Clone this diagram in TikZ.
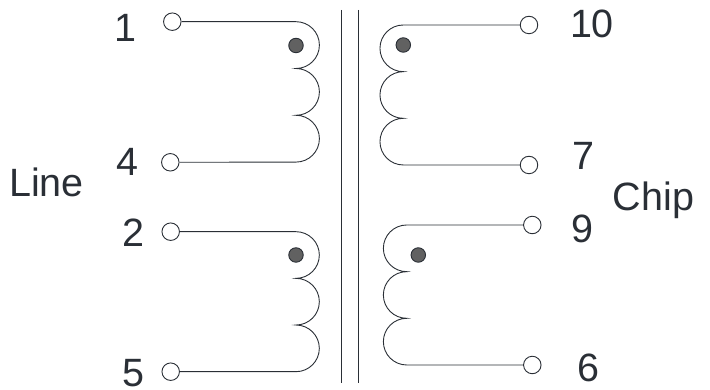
\documentclass[tikz,border=0pt]{standalone}
\usepackage{fontspec}
\setmainfont{Liberation Sans}
\definecolor{inkdark}{RGB}{42,47,54}
\begin{document}
\begin{tikzpicture}[x=1pt,y=1pt,line width=0.9pt,draw=inkdark]
		\useasboundingbox (0,0) rectangle (710,390);
		\begin{scope}[every node/.style={circle,draw,fill=white,inner sep=0pt,minimum size=17.5pt}]
			\node (1) at (172.3,368.3) {};
			\node (4) at (170.3,227.7) {};
			\node (2) at (170.7,158.3) {};
			\node (5) at (170.7,18.3) {};
			\node (10) at (529,365) {};
			\node (7) at (529,225) {};
			\node (9) at (532.3,165) {};
			\node (6) at (532.3,25) {};
		\end{scope}
		
		\begin{scope}[every node/.style={circle,draw,fill=black!62,inner sep=0pt,minimum size=14.5pt}]
			\node (dot1) at (296,344.5) {};
			\node (dot2) at (296,135) {};
			\node (dot3) at (403.3,345) {};
			\node (dot4) at (418.3,135) {};
		\end{scope}
		
		\begin{scope}[every node/.style={anchor=base,inner sep=0pt,text=inkdark,font=\fontsize{39.5}{39.5}\selectfont}]
			\node (n1) at (125.5,348) {1};
			\node (n4) at (127.5,214) {4};
			\node (n2) at (133,143) {2};
			\node (n5) at (133,3) {5};
			\node (n10) at (592,352.5) {10};
			\node (n7) at (583,220) {7};
			\node (n9) at (582,147.5) {9};
			\node (n6) at (588.5,8.5) {6};
			\node (line) at (46.5,193) {Line};
			\node (chip) at (653.5,179) {Chip};
		\end{scope}
		
		\coordinate (a1) at (296,368.3);
		\coordinate (a2) at (296,158.3);
		\coordinate (a3) at (403.3,365);
		\coordinate (a4) at (406.7,165);
		\coordinate (core1) at (341.7,380);
		\coordinate (core2) at (341.7,7);
		\coordinate (core3) at (358.5,380);
		\coordinate (core4) at (358.5,7);
		
		\draw (core1) -- (core2);
		\draw (core3) -- (core4);
		\draw (1) -- (a1) arc[start angle=90,end angle=-90,radius=23.4]
			arc[start angle=90,end angle=-90,radius=23.4]
			arc[start angle=90,end angle=-90,radius=23.4] -- (4);
		\draw (2) -- (a2) arc[start angle=90,end angle=-90,radius=23.33]
			arc[start angle=90,end angle=-90,radius=23.33]
			arc[start angle=90,end angle=-90,radius=23.33] -- (5);
		\draw (10) -- (a3) arc[start angle=90,end angle=270,radius=23.33]
			arc[start angle=90,end angle=270,radius=23.33]
			arc[start angle=90,end angle=270,radius=23.33] -- (7);
		\draw (9) -- (a4) arc[start angle=90,end angle=270,radius=23.33]
			arc[start angle=90,end angle=270,radius=23.33]
			arc[start angle=90,end angle=270,radius=23.33] -- (6);
\end{tikzpicture}
\end{document}
